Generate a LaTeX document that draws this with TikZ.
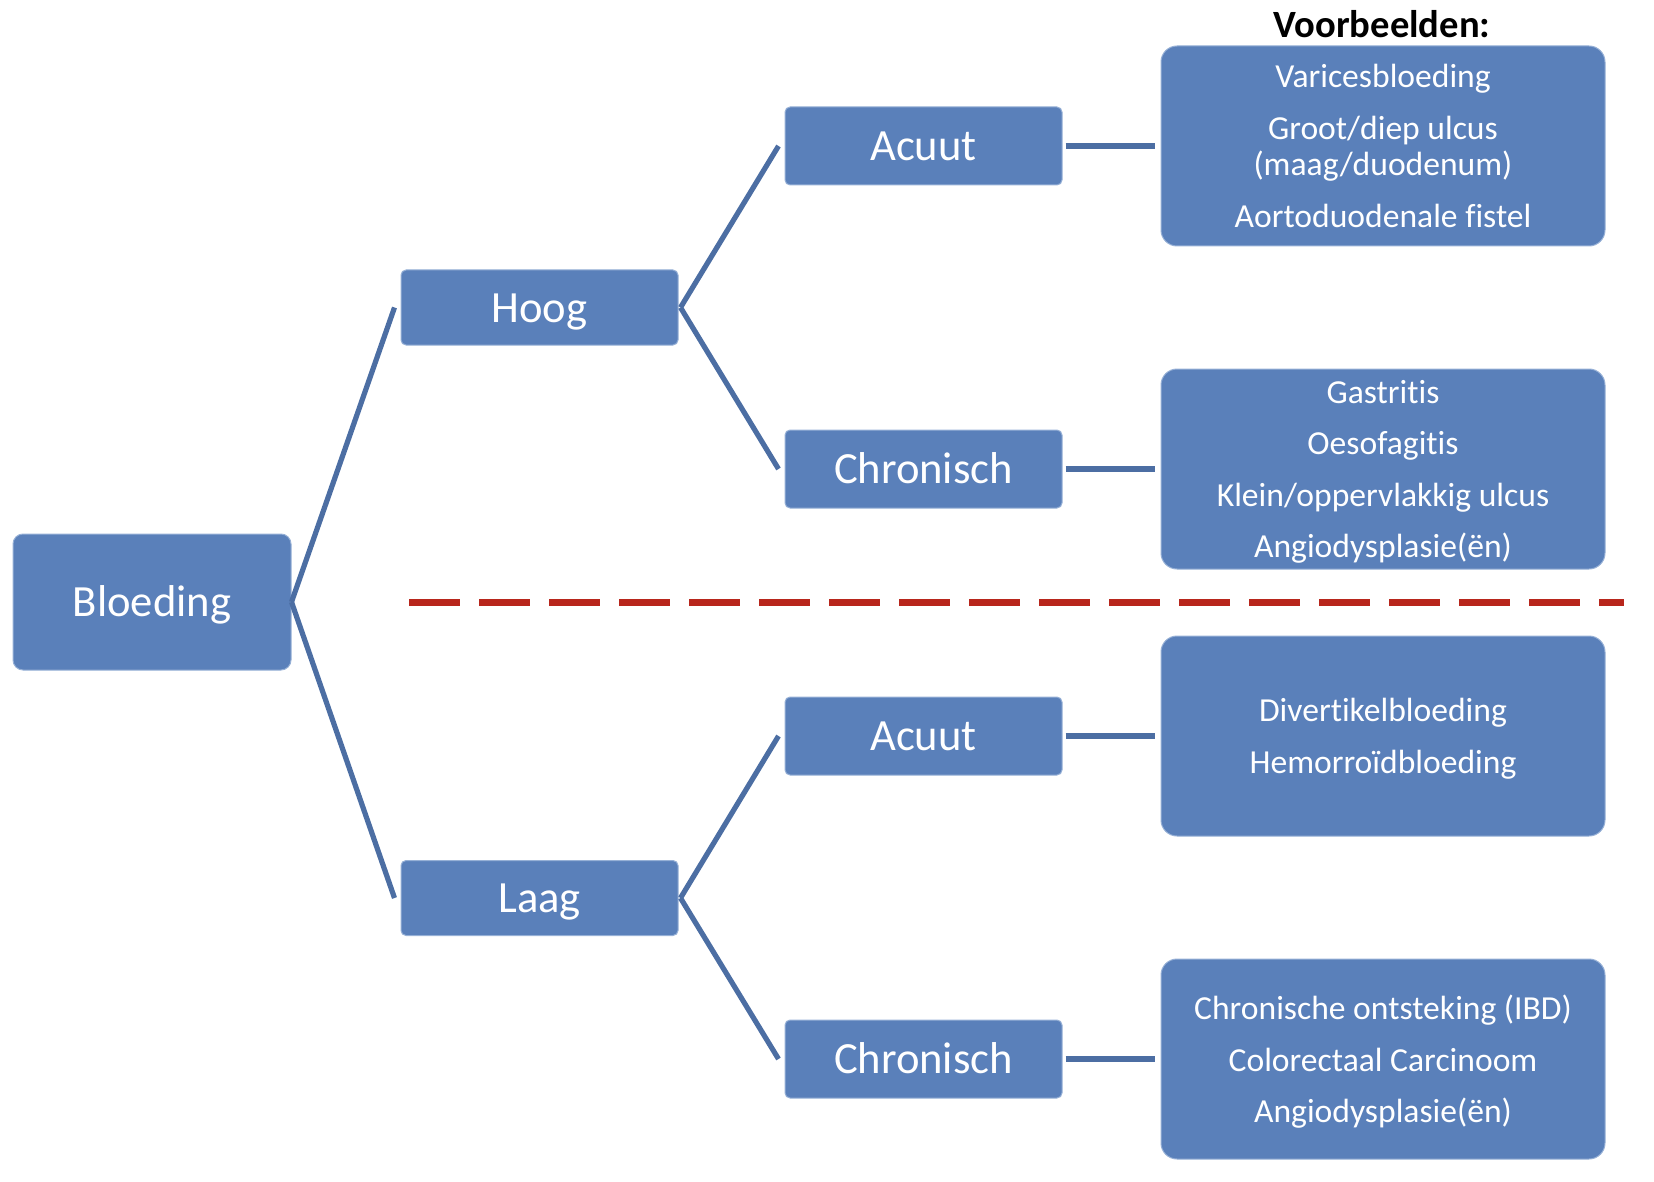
\documentclass[tikz,border=0pt]{standalone}
\usepackage{fontspec}
\setmainfont[Ligatures=NoCommon]{Carlito}
\definecolor{boxblue}{RGB}{90,128,186}
\definecolor{boxedge}{RGB}{150,176,214}
\definecolor{lineblue}{RGB}{76,110,163}
\definecolor{dashred}{RGB}{184,38,28}
\begin{document}
\begin{tikzpicture}[x=0.5pt,y=-0.5pt,
  basebox/.style={fill=boxblue, draw=boxedge, line width=0.5pt, text=white, inner sep=0pt, align=center},
  mainbox/.style={basebox, rounded corners=2.5pt, minimum width=138.5pt, minimum height=38pt,
    font=\fontsize{22.3}{26}\selectfont, text height=19pt, text depth=4.5pt},
  rootbox/.style={basebox, rounded corners=5pt, minimum width=139pt, minimum height=68pt,
    font=\fontsize{22.3}{26}\selectfont, text height=19pt, text depth=4.5pt},
  exbox/.style={basebox, rounded corners=8pt, minimum width=222pt, minimum height=100pt,
    font=\fontsize{16.8}{18.25}\selectfont, text depth=0pt},
  conn/.style={draw=lineblue, line width=2.6pt},
  hconn/.style={draw=lineblue, line width=3pt}
]
\useasboundingbox (0,0) rectangle (1654,1182);

% root and level nodes
\node[rootbox] (bl) at (152,602) {Bloeding};
\node[mainbox, minimum height=37.5pt] (hoog) at (539.5,307.5) {Hoog};
\node[mainbox, minimum height=37.5pt] (laag) at (539.5,898) {Laag};
\node[mainbox, minimum height=39pt] (ac1) at (923.5,146) {Acuut};
\node[mainbox, minimum height=39pt] (ch1) at (923.5,469) {Chronisch};
\node[mainbox, minimum height=39pt] (ac2) at (923.5,736) {Acuut};
\node[mainbox, minimum height=39pt] (ch2) at (923.5,1059) {Chronisch};

% examples
\node[font=\bfseries\fontsize{19.3}{22}\selectfont, text=black, inner sep=0pt] (vb) at (1382,24) {Voorbeelden:};
\node[exbox] (ex1) at (1383,146) {Varicesbloeding\\[7.5pt]Groot/diep ulcus\\(maag/duodenum)\\[7.5pt]Aortoduodenale fistel};
\node[exbox] (ex2) at (1383,469) {Gastritis\\[7.5pt]Oesofagitis\\[7.5pt]Klein/oppervlakkig ulcus\\[7.5pt]Angiodysplasie(ën)};
\node[exbox] (ex3) at (1383,736) {Divertikelbloeding\\[7.5pt]Hemorroïdbloeding};
\node[exbox] (ex4) at (1383,1059) {Chronische ontsteking (IBD)\\[7.5pt]Colorectaal Carcinoom\\[7.5pt]Angiodysplasie(ën)};

% fan connectors
\draw[conn] (bl.east) -- ([xshift=-3pt]hoog.west);
\draw[conn] (bl.east) -- ([xshift=-3pt]laag.west);
\draw[conn] ([xshift=1pt]hoog.east) -- ([xshift=-3pt]ac1.west);
\draw[conn] ([xshift=1pt]hoog.east) -- ([xshift=-3pt]ch1.west);
\draw[conn] ([xshift=1pt]laag.east) -- ([xshift=-3pt]ac2.west);
\draw[conn] ([xshift=1pt]laag.east) -- ([xshift=-3pt]ch2.west);

% horizontal connectors
\draw[hconn] ([xshift=1.5pt]ac1.east) -- ([xshift=-3pt]ex1.west);
\draw[hconn] ([xshift=1.5pt]ch1.east) -- ([xshift=-3pt]ex2.west);
\draw[hconn] ([xshift=1.5pt]ac2.east) -- ([xshift=-3pt]ex3.west);
\draw[hconn] ([xshift=1.5pt]ch2.east) -- ([xshift=-3pt]ex4.west);

% dashed divider
\coordinate (dashA) at (409,602);
\coordinate (dashB) at (1624,602);
\draw[draw=dashred, line width=3.5pt, dash pattern=on 25.5pt off 9.5pt] (dashA) -- (dashB);
\end{tikzpicture}
\end{document}
